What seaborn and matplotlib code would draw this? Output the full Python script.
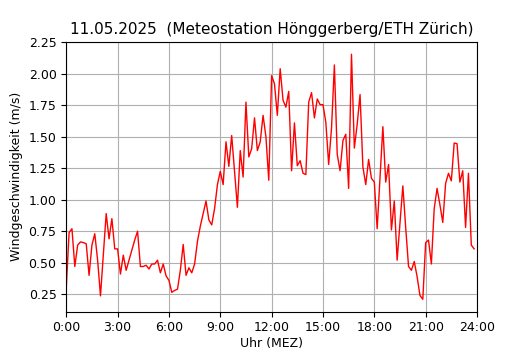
import numpy as np
import pandas as pd
import matplotlib
matplotlib.use("Agg")
import matplotlib.pyplot as plt
import seaborn as sns

# 10-minute means of wind speed, 00:00 .. 23:50
wind_speed = [
    0.30, 0.74, 0.77, 0.47, 0.64, 0.665, 0.66, 0.65, 0.40, 0.64, 0.73, 0.52,
    0.237, 0.56, 0.89, 0.69, 0.85, 0.61, 0.61, 0.41, 0.56, 0.44, 0.52, 0.60,
    0.68, 0.75, 0.47, 0.47, 0.48, 0.45, 0.49, 0.49, 0.52, 0.42, 0.49, 0.395,
    0.36, 0.265, 0.28, 0.29, 0.44, 0.645, 0.40, 0.46, 0.42, 0.49, 0.67, 0.79,
    0.89, 0.99, 0.84, 0.80, 0.93, 1.12, 1.225, 1.12, 1.46, 1.265, 1.51, 1.23,
    0.94, 1.39, 1.18, 1.775, 1.34, 1.405, 1.65, 1.39, 1.46, 1.67, 1.50, 1.155,
    1.985, 1.92, 1.67, 2.04, 1.79, 1.735, 1.86, 1.23, 1.61, 1.27, 1.31, 1.21,
    1.20, 1.775, 1.85, 1.65, 1.80, 1.755, 1.755, 1.615, 1.28, 1.57, 2.07, 1.36,
    1.23, 1.47, 1.52, 1.09, 2.155, 1.41, 1.60, 1.835, 1.26, 1.12, 1.32, 1.17,
    1.14, 0.77, 1.17, 1.58, 1.14, 1.28, 0.76, 0.99, 0.52, 0.82, 1.11, 0.78,
    0.47, 0.44, 0.51, 0.39, 0.24, 0.21, 0.66, 0.68, 0.49, 0.93, 1.09, 0.96,
    0.82, 1.13, 1.21, 1.15, 1.45, 1.445, 1.14, 1.23, 0.78, 1.21, 0.64, 0.61,
]
hour_ticks = [0, 3, 6, 9, 12, 15, 18, 21, 24]
hour_labels = ["0:00", "3:00", "6:00", "9:00", "12:00", "15:00", "18:00", "21:00", "24:00"]

data = pd.DataFrame({"stunde": np.arange(len(wind_speed)) / 6.0, "wind": wind_speed})

fig = plt.figure(figsize=(5.3, 3.5), dpi=100)
ax = fig.add_subplot(111)
sns.lineplot(data=data, x="stunde", y="wind", color="red", linewidth=1, ax=ax)
ax.set_xlim(0, 24)
ax.set_xticks(hour_ticks)
ax.set_xticklabels(hour_labels)
ax.grid(True)
ax.set_title("11.05.2025  (Meteostation Hönggerberg/ETH Zürich)", fontsize=11)
ax.set_xlabel("Uhr (MEZ)", fontsize=9, labelpad=2)
ax.set_ylabel("Windgeschwindigkeit (m/s)", fontsize=9)
ax.tick_params(labelsize=9)

plt.savefig("out.png")
